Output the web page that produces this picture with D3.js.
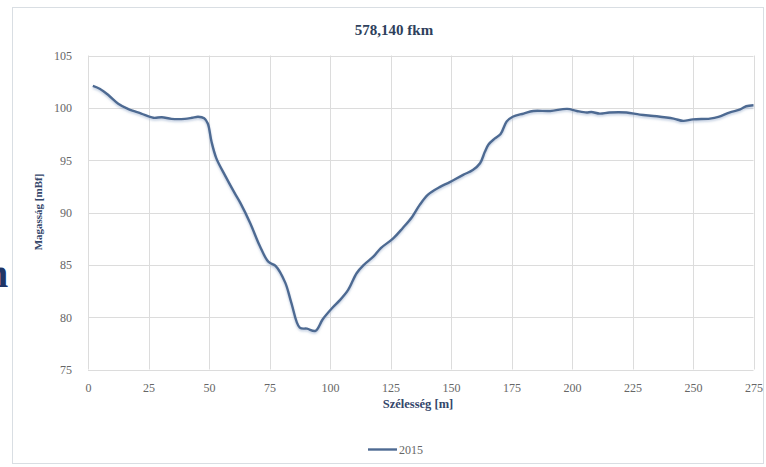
<!DOCTYPE html>
<html><head><meta charset="utf-8">
<script src="https://cdn.jsdelivr.net/npm/d3@7"></script>
<style>html,body{margin:0;padding:0;background:#fff;overflow:hidden}svg{display:block}svg text{font-family:"Liberation Serif","DejaVu Serif",serif}</style>
</head><body>
<svg id="c" width="766" height="467"></svg>
<script>
const title = "578,140 fkm";
const xTitle = "Szélesség [m]";
const yTitle = "Magasság [mBf]";
const seriesName = "2015";
const xTicks = [0,25,50,75,100,125,150,175,200,225,250,275];
const yTicks = [75,80,85,90,95,100,105];
const widths = [2,5,8.5,12.5,16.5,22,27,30.5,34.5,40,43,45.5,48,49.5,51,53,56.5,60.5,63,67,71,74.5,77.5,81.5,84,87.5,90.5,94,97,101,104,107.5,111,114,118,121,126,130,134,137,140.5,145.5,149.5,155,159,162,164,165.5,168,170.5,173,175.5,180,184,191,198,202,206,208,211.5,215.5,222.5,228,235,242,246,250,257,260.5,265,269.5,272,275];
const heights = [102.1,101.8,101.2,100.4,99.9,99.45,99.05,99.1,98.95,98.95,99.05,99.15,99.0,98.5,96.8,95.2,93.6,91.9,90.9,89.0,86.8,85.3,84.9,83.3,81.4,79.0,78.9,78.7,79.8,80.9,81.6,82.6,84.2,85.0,85.8,86.6,87.5,88.5,89.6,90.7,91.7,92.45,92.9,93.6,94.05,94.7,95.8,96.5,97.05,97.5,98.7,99.15,99.45,99.7,99.7,99.9,99.7,99.55,99.6,99.45,99.55,99.55,99.35,99.2,98.97,98.75,98.9,98.97,99.13,99.55,99.85,100.15,100.25];

const svg = d3.select("#c");
const lineColor = "#4e6a92";

svg.append("rect").attr("x",12.5).attr("y",7.5).attr("width",751).attr("height",456)
  .attr("fill","#fff").attr("stroke","#d9dee3");

svg.append("text").attr("x",-14).attr("y",287).attr("font-weight","bold")
  .attr("font-size",40).attr("fill","#1f3566").text("n");

const x = d3.scaleLinear().domain([0,275]).range([88,753.5]);
const y = d3.scaleLinear().domain([75,105]).range([369.5,55.5]);

const defs = svg.append("defs");
const f = defs.append("filter").attr("id","sh").attr("x","-5%").attr("y","-5%").attr("width","110%").attr("height","110%");
f.append("feDropShadow").attr("dx",0).attr("dy",1.5).attr("stdDeviation",1.2).attr("flood-color","#8fa6c8").attr("flood-opacity",0.6);

const g = svg.append("g");
g.selectAll(".hg").data(yTicks).join("line")
  .attr("x1",x(0)).attr("x2",x(275)).attr("y1",d=>Math.round(y(d))+0.5).attr("y2",d=>Math.round(y(d))+0.5)
  .attr("stroke","#dcdcdc").attr("stroke-width",1);
g.selectAll(".vg").data(xTicks).join("line")
  .attr("y1",y(105)).attr("y2",y(75)).attr("x1",d=>Math.round(x(d))+0.5).attr("x2",d=>Math.round(x(d))+0.5)
  .attr("stroke","#dcdcdc").attr("stroke-width",1);

const yAxis = svg.append("g").attr("transform","translate(80,0)")
  .call(d3.axisLeft(y).tickValues(yTicks).tickSize(0).tickPadding(8).tickFormat(d3.format("d")));
const xAxis = svg.append("g").attr("transform",`translate(0,${y(75)})`)
  .call(d3.axisBottom(x).tickValues(xTicks).tickSize(0).tickPadding(14).tickFormat(d3.format("d")));
[yAxis,xAxis].forEach(a=>{
  a.select(".domain").remove();
  a.selectAll("text").attr("font-family",null).attr("font-size",12).attr("fill","#666");
});
yAxis.attr("font-family",null); xAxis.attr("font-family",null);

const line = d3.line().x((d,i)=>x(widths[i])).y(d=>y(d)).curve(d3.curveCatmullRom.alpha(0.5));
svg.append("path").datum(heights).attr("d",line).attr("fill","none")
  .attr("stroke",lineColor).attr("stroke-width",2.4).attr("stroke-linejoin","round")
  .attr("filter","url(#sh)");

svg.append("text").attr("x",394).attr("y",35).attr("text-anchor","middle")
  .attr("font-weight","bold").attr("font-size",15).attr("fill","#2e3f5c").text(title);
svg.append("text").attr("x",418).attr("y",408).attr("text-anchor","middle")
  .attr("font-weight","bold").attr("font-size",12.5).attr("fill","#34466a").text(xTitle);
svg.append("text").attr("transform","translate(42,212) rotate(-90)").attr("text-anchor","middle")
  .attr("font-weight","bold").attr("font-size",11).attr("fill","#34466a").text(yTitle);

svg.append("line").attr("x1",368).attr("x2",397).attr("y1",449.5).attr("y2",449.5)
  .attr("stroke",lineColor).attr("stroke-width",2.4);
svg.append("text").attr("x",399).attr("y",454).attr("font-size",12)
  .attr("fill","#666").text(seriesName);
</script>
</body></html>
